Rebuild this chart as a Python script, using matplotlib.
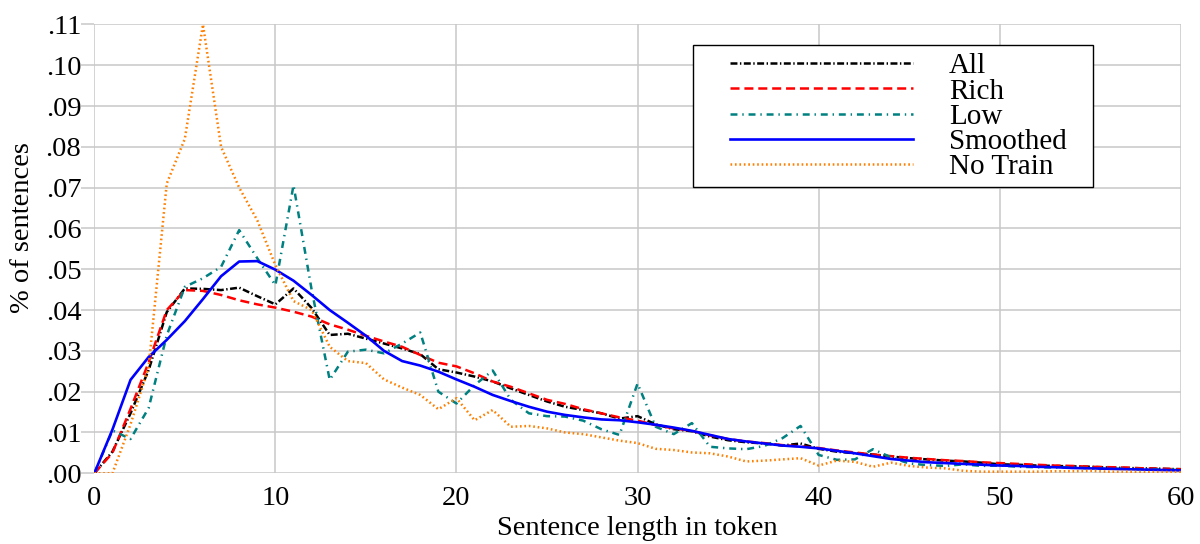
import matplotlib
matplotlib.use("Agg")
import matplotlib.pyplot as plt
import matplotlib.patches as patches
from matplotlib.ticker import FuncFormatter, MultipleLocator

plt.rcParams['font.family'] = ['Liberation Serif', 'DejaVu Serif']
plt.rcParams['lines.scale_dashes'] = False

# sentence length (tokens)
lengths = list(range(61))

share_all = [
    0, .0053, .0147, .0253, .0395, .0453, .0452, .0449, .0455, .0434,
    .0414, .0453, .0405, .0339, .0342, .0330, .0318, .0306, .0292, .0255,
    .0247, .0237, .0225, .0208, .0192, .0176, .0163, .0155, .0147, .0134,
    .0140, .0120, .0108, .0103, .0090, .0081, .0076, .0073, .0068, .0073,
    .0060, .0053, .0049, .0046, .0041, .0037, .0034, .0031, .0029, .0026,
    .0022, .0021, .0019, .0018, .0017, .0016, .0014, .0013, .0012, .0011,
    .0010,
]

share_rich = [
    0, .0050, .0158, .0272, .0400, .0449, .0447, .0437, .0424, .0414,
    .0406, .0396, .0384, .0365, .0352, .0337, .0323, .0310, .0290, .0271,
    .0262, .0245, .0225, .0212, .0196, .0180, .0170, .0157, .0147, .0137,
    .0129, .0118, .0110, .0104, .0093, .0084, .0078, .0074, .0069, .0066,
    .0062, .0056, .0051, .0046, .0042, .0038, .0035, .0032, .0030, .0027,
    .0025, .0023, .0021, .0019, .0018, .0016, .0015, .0014, .0012, .0011,
    .0010,
]

share_low = [
    0, .0105, .0084, .0160, .0338, .0457, .0478, .0506, .0596, .0527,
    .0461, .0706, .0450, .0229, .0298, .0303, .0294, .0318, .0345, .0200,
    .0171, .0216, .0252, .0180, .0147, .0140, .0139, .0129, .0108, .0094,
    .0220, .0114, .0096, .0123, .0065, .0061, .0059, .0067, .0086, .0116,
    .0045, .0033, .0034, .0059, .0039, .0024, .0020, .0018, .0022, .0018,
    .0019, .0016, .0015, .0014, .0015, .0012, .0011, .0011, .0010, .0009,
    .0008,
]

share_smoothed = [
    0, .0107, .0229, .0285, .0327, .0373, .0427, .0483, .0519, .0520,
    .0499, .0472, .0437, .0400, .0369, .0337, .0300, .0275, .0264, .0249,
    .0230, .0212, .0192, .0177, .0163, .0151, .0143, .0137, .0132, .0130,
    .0125, .0119, .0112, .0104, .0094, .0084, .0078, .0073, .0068, .0065,
    .0061, .0055, .0049, .0042, .0035, .0031, .0027, .0025, .0023, .0021,
    .0019, .0018, .0016, .0015, .0013, .0012, .0011, .0010, .0009, .0008,
    .0007,
]

share_notrain = [
    0, 0, .0120, .0260, .0710, .0820, .1100, .0800, .0700, .0620,
    .0510, .0422, .0400, .0310, .0275, .0270, .0230, .0210, .0192, .0157,
    .0184, .0130, .0155, .0114, .0116, .0110, .0100, .0096, .0088, .0080,
    .0074, .0060, .0057, .0051, .0049, .0041, .0029, .0031, .0034, .0037,
    .0019, .0031, .0028, .0016, .0026, .0018, .0014, .0012, .0006, .0004,
    .0004, .0004, .0004, .0005, .0005, .0006, .0004, .0004, .0003, .0003,
    .0003,
]

series_labels = ['All', 'Rich', 'Low', 'Smoothed', 'No Train']

W, H = 1200, 544
fig = plt.figure(figsize=(W / 100, H / 100), dpi=100)
ax = fig.add_axes([0.0786, 0.130, 0.9054, 0.825])

ax.plot(lengths, share_all, color='black', lw=1.8, dashes=(5, 1.8, 1, 1.8), label=series_labels[0])
ax.plot(lengths, share_rich, color='red', lw=1.8, dashes=(6.5, 3.5), label=series_labels[1])
ax.plot(lengths, share_low, color='#008080', lw=1.8, dashes=(5, 3.5, 1, 3.5), label=series_labels[2])
ax.plot(lengths, share_smoothed, color='blue', lw=1.9, label=series_labels[3])
ax.plot(lengths, share_notrain, color='#ff8000', lw=1.8, dashes=(1.2, 2), label=series_labels[4])

ax.set_xlim(0, 60)
ax.set_ylim(0, 0.11)
ax.xaxis.set_major_locator(MultipleLocator(10))
ax.yaxis.set_major_locator(MultipleLocator(0.01))
ax.yaxis.set_major_formatter(FuncFormatter(lambda v, p: ('%.2f' % v)[1:]))

for s in ax.spines.values():
    s.set_visible(False)
ax.grid(True, color='#c8c8c8', lw=1.1)
ax.set_axisbelow(True)
ax.tick_params(axis='y', length=9.4, color='#c8c8c8', width=1.1, pad=0, labelsize=20.5)
ax.tick_params(axis='x', length=0, pad=9, labelsize=20.5)

# the label sits close to the bottom edge, as in the original
ax.set_xlabel('Sentence length in token', fontsize=20.5, labelpad=4)
ax.set_ylabel('% of sentences', fontsize=20.5)
ax.yaxis.set_label_coords(-0.0546, 0.548)

# legend box drawn separately (pgfplots-like spacing)
box = patches.Rectangle((693 / W, 1 - 187 / H), 400 / W, 142 / H, transform=fig.transFigure,
                        facecolor='white', edgecolor='black', lw=1.0, zorder=4, clip_on=False)
ax.add_patch(box)
leg = ax.legend(loc='upper left', bbox_to_anchor=(730 / W, 1 - 53 / H), bbox_transform=fig.transFigure,
                fontsize=21, handlelength=6.27, handletextpad=1.24, labelspacing=-0.04,
                borderpad=0, borderaxespad=0, frameon=False)
leg.set_zorder(5)

fig.savefig('out.png', dpi=100)
